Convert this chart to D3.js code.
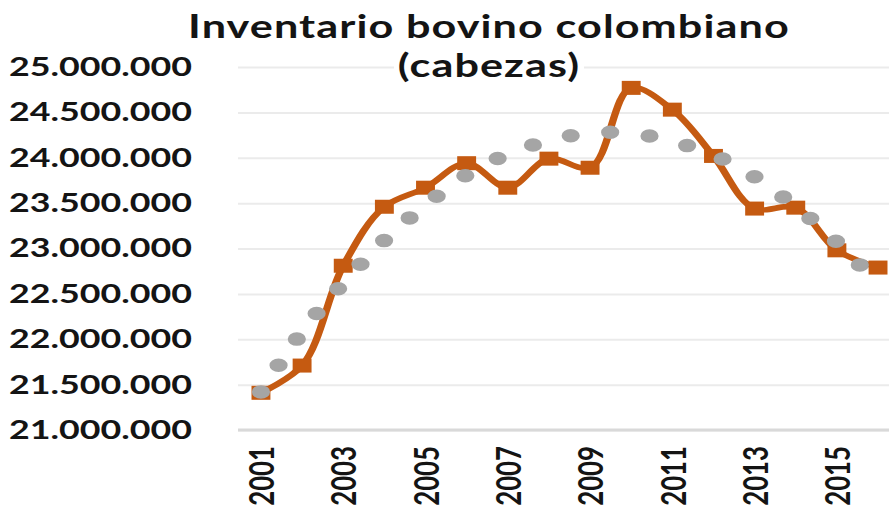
<!DOCTYPE html>
<html lang="es">
  <head>
    <meta charset="utf-8">
    <title>Inventario bovino colombiano</title>
    <script type="text/javascript" src="https://cdn.jsdelivr.net/npm/d3@7"></script>
    <style type="text/css">
      html, body {
        margin: 0;
        padding: 0;
        background: #ffffff;
        overflow: hidden;
      }
      text {
        font-family: Lato, "Open Sans", sans-serif;
        font-weight: bold;
        fill: #141414;
      }
    </style>
  </head>
  <body>
    <script type="text/javascript">

      //Data
      var years = [2001, 2002, 2003, 2004, 2005, 2006, 2007, 2008,
                   2009, 2010, 2011, 2012, 2013, 2014, 2015, 2016];
      var inventario = [21410000, 21710000, 22810000, 23460000, 23670000, 23940000, 23670000, 23990000,
                        23890000, 24770000, 24530000, 24020000, 23440000, 23450000, 22980000, 22790000];
      // grey dotted trend line, read at each year
      var tendencia = [21420000, 22080000, 22620000, 23090000, 23480000, 23810000, 24040000, 24190000,
                       24270000, 24270000, 24180000, 24030000, 23790000, 23460000, 23070000, 22610000];
      var yTicks = [21000000, 21500000, 22000000, 22500000, 23000000, 23500000, 24000000, 24500000, 25000000];
      var xTickYears = [2001, 2003, 2005, 2007, 2009, 2011, 2013, 2015];
      var titleLines = ["Inventario bovino colombiano", "(cabezas)"];

      //Width and height; the original picture is stretched sideways
      var w = 889;
      var h = 506;
      var stretch = 1.35;
      var iw = w / stretch;

      var plotLeft = 176.3;
      var plotRight = 720;

      var xScale = d3.scaleLinear()
              .domain([2001, 2016])
              .range([193.3, 650.4]);

      var yScale = d3.scaleLinear()
              .domain([21000000, 25000000])
              .range([430, 67]);

      var es = d3.formatLocale({decimal: ",", thousands: ".", grouping: [3], currency: ["$", ""]});

      //Create SVG element
      var svg = d3.select("body")
            .append("svg")
            .attr("width", w)
            .attr("height", h)
            .attr("viewBox", "0 0 " + iw + " " + h)
            .attr("preserveAspectRatio", "none")
            .style("display", "block");

      //Y axis with gridlines
      var yAxis = d3.axisLeft(yScale)
              .tickValues(yTicks)
              .tickFormat(es.format(",d"))
              .tickSize(-(plotRight - plotLeft))
              .tickPadding(plotLeft - 142.2);

      var gy = svg.append("g")
            .attr("transform", "translate(" + plotLeft + ",0)")
            .call(yAxis);
      gy.select(".domain").remove();
      gy.selectAll("line")
        .attr("stroke", "#ebebeb")
        .attr("stroke-width", 2);
      gy.selectAll("text")
        .attr("font-size", 26.5)
        .attr("fill", "#141414")
        .attr("font-family", "Lato, 'Open Sans', sans-serif");

      //X axis line
      svg.append("line")
         .attr("x1", plotLeft)
         .attr("x2", plotRight)
         .attr("y1", yScale(21000000))
         .attr("y2", yScale(21000000))
         .attr("stroke", "#d9d9d9")
         .attr("stroke-width", 3);

      var xAxis = d3.axisBottom(xScale)
              .tickValues(xTickYears)
              .tickFormat(d3.format("d"))
              .tickSize(0);

      var gx = svg.append("g")
            .attr("transform", "translate(0," + yScale(21000000) + ")")
            .call(xAxis);
      gx.select(".domain").remove();
      gx.selectAll("text")
        .attr("font-size", 25.8)
        .attr("fill", "#141414")
        .attr("font-family", "Lato, 'Open Sans', sans-serif")
        .attr("text-anchor", "end")
        .attr("transform", "rotate(-90)")
        .attr("x", -16)
        .attr("y", 0)
        .attr("dy", "0.36em");

      //Orange series, smoothed
      var line = d3.line()
            .x(function(d, i) { return xScale(years[i]); })
            .y(function(d) { return yScale(d); })
            .curve(d3.curveCatmullRom);

      svg.append("path")
         .datum(inventario)
         .attr("d", line)
         .attr("fill", "none")
         .attr("stroke", "#c55a11")
         .attr("stroke-width", 5.5);

      svg.selectAll("rect.marker")
         .data(inventario)
         .enter()
         .append("rect")
         .attr("class", "marker")
         .attr("x", function(d, i) { return xScale(years[i]) - 7; })
         .attr("y", function(d) { return yScale(d) - 7; })
         .attr("width", 14)
         .attr("height", 14)
         .attr("fill", "#c55a11");

      //Grey trend, round dots
      var trend = d3.line()
            .x(function(d, i) { return xScale(years[i]); })
            .y(function(d) { return yScale(d); })
            .curve(d3.curveNatural);

      svg.append("path")
         .datum(tendencia)
         .attr("d", trend)
         .attr("fill", "none")
         .attr("stroke", "#a5a5a5")
         .attr("stroke-width", 13.5)
         .attr("stroke-linecap", "round")
         .attr("stroke-dasharray", "0,29.5");

      //Title
      svg.append("rect")
         .attr("x", 291.9)
         .attr("y", 58)
         .attr("width", 140.7)
         .attr("height", 18)
         .attr("fill", "#ffffff");

      svg.selectAll("text.title")
         .data(titleLines)
         .enter()
         .append("text")
         .attr("class", "title")
         .attr("x", 362.2)
         .attr("y", function(d, i) { return 38 + i * 39; })
         .attr("text-anchor", "middle")
         .attr("font-size", 32)
         .attr("letter-spacing", 0.8)
         .text(function(d) { return d; });

    </script>
  </body>
</html>
